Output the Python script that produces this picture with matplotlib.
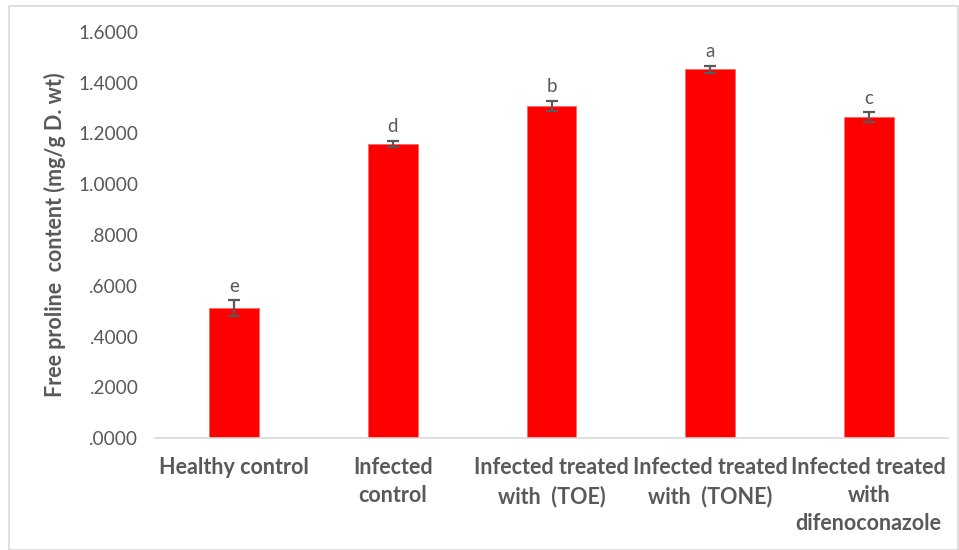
import matplotlib
matplotlib.use("Agg")
import matplotlib.pyplot as plt
from matplotlib.patches import Rectangle

plt.rcParams['font.family'] = ['Lato', 'DejaVu Sans']

categories = [
    "Healthy control",
    "Infected\ncontrol",
    "Infected treated\nwith  (TOE)",
    "Infected treated\nwith  (TONE)",
    "Infected treated\nwith\ndifenoconazole",
]
proline = [0.512, 1.160, 1.308, 1.453, 1.264]
errors = [0.030, 0.012, 0.020, 0.014, 0.020]
letters = ["e", "d", "b", "a", "c"]
yticks = [0.0, 0.2, 0.4, 0.6, 0.8, 1.0, 1.2, 1.4, 1.6]
ytick_labels = [".0000", ".2000", ".4000", ".6000", ".8000",
                "1.0000", "1.2000", "1.4000", "1.6000"]

W, H = 959, 550
fig = plt.figure(figsize=(W / 100, H / 100), dpi=100)

# light chart-area frame
fig.patches.append(Rectangle((9 / W, 0), (W - 10) / W, (H - 6) / H,
                             transform=fig.transFigure, fill=False,
                             edgecolor="#d9d9d9", linewidth=1.2))

ax = fig.add_axes([155 / W, (H - 438) / H, (948 - 155) / W, (438 - 32) / H])
x = range(len(categories))
ax.bar(x, proline, width=0.315, color="#ff0000", edgecolor="#ff6666",
       linewidth=0.6, zorder=2)
ax.errorbar(x, proline, yerr=errors, fmt="none", ecolor="#595959",
            elinewidth=1.6, capsize=4, capthick=1.6, zorder=3)
for xi, v, e, lab in zip(x, proline, errors, letters):
    ax.annotate(lab, (xi, v + e), xytext=(0, 4), textcoords="offset points",
                ha="center", va="bottom", fontsize=13.5, color="#595959")

ax.set_xlim(-0.5, 4.5)
ax.set_ylim(0, 1.6)
ax.set_yticks(yticks)
ax.set_yticklabels(ytick_labels)
ax.set_xticks(list(x))
ax.set_xticklabels(categories, fontweight="bold", linespacing=1.42)
ax.tick_params(axis="y", length=0, pad=12, labelsize=13.7, labelcolor="#595959")
ax.tick_params(axis="x", length=0, pad=13.5, labelsize=15.5, labelcolor="#595959")
for s in ("top", "right", "left"):
    ax.spines[s].set_visible(False)
ax.spines["bottom"].set_color("#d9d9d9")
ax.spines["bottom"].set_linewidth(1.2)

fig.text(55 / W, (H - 235) / H, "Free proline  content (mg/g D. wt)",
         rotation=90, ha="center", va="center", fontsize=15.5,
         fontweight="bold", color="#595959")

fig.savefig("out.png", dpi=100)
